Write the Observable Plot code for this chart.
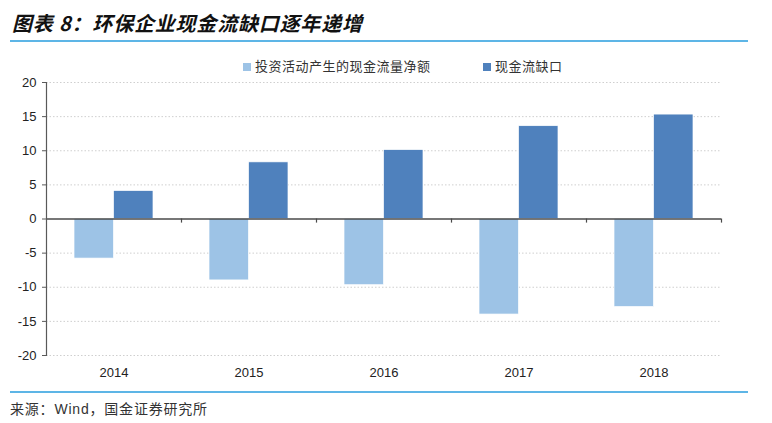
<!DOCTYPE html>
<html>
<head>
<meta charset="utf-8">
<script src="https://cdn.jsdelivr.net/npm/d3@7"></script>
<script src="https://cdn.jsdelivr.net/npm/@observablehq/plot@0.6"></script>
<style>
  html, body { margin: 0; padding: 0; background: #fff; }
  #wrap { position: relative; width: 772px; height: 423px; overflow: hidden; font-family: "Liberation Sans", Arial, sans-serif; }
  #title { position: absolute; left: 12px; top: 10px; font-family: "Noto Sans CJK SC", sans-serif; font-weight: bold; font-style: italic; font-size: 20px; letter-spacing: 0.8px; color: #111; line-height: 26px; white-space: nowrap; }
  .hline { position: absolute; left: 10px; width: 738px; height: 2px; background: #5db5e6; }
  #legend { position: absolute; top: 57px; left: 0; width: 772px; height: 18px; font-family: "Noto Sans CJK SC", sans-serif; font-size: 13px; color: #333; letter-spacing: 0.5px; }
  .li { position: absolute; top: 0; white-space: nowrap; line-height: 18px; }
  .sw { display: inline-block; width: 8px; height: 8px; margin-right: 4px; vertical-align: 0px; }
  #source { position: absolute; left: 10px; top: 398px; font-family: "Noto Sans CJK SC", sans-serif; font-size: 14px; letter-spacing: 0.8px; color: #333; white-space: nowrap; line-height: 20px; }
  #source .latin { font-family: "Liberation Sans", Arial, sans-serif; }
  #chart { position: absolute; left: 0; top: 0; }
</style>
</head>
<body>
<div id="wrap">
  <div id="chart"></div>
  <div id="title">图表 8：环保企业现金流缺口逐年递增</div>
  <div class="hline" style="top:40px"></div>
  <div id="legend"></div>
  <div class="hline" style="top:391px"></div>
  <div id="source">来源：<span class="latin">Wind</span>，国金证券研究所</div>
</div>
<script>
// ---- data ----
const years = ["2014", "2015", "2016", "2017", "2018"];
const seriesNames = ["投资活动产生的现金流量净额", "现金流缺口"];
const investNet = [-5.8, -9.0, -9.7, -14.0, -12.9];
const cashGap = [4.1, 8.3, 10.1, 13.6, 15.3];
const yTicks = [-20, -15, -10, -5, 0, 5, 10, 15, 20];
const colors = ["#9dc3e6", "#4f81bd"];

const rows = [];
years.forEach((y, i) => {
  rows.push({year: y, series: seriesNames[0], value: investNet[i]});
  rows.push({year: y, series: seriesNames[1], value: cashGap[i]});
});

// legend
const legend = document.getElementById("legend");
const legendPos = [243, 483];
seriesNames.forEach((s, i) => {
  const d = document.createElement("div");
  d.className = "li";
  d.style.left = legendPos[i] + "px";
  d.innerHTML = `<span class="sw" style="background:${colors[i]}"></span>${s}`;
  legend.appendChild(d);
});

const barW = 39.5;
const band = (772 - 46 - 51) / years.length;
const inset = (band - barW) / 2;

const chart = Plot.plot({
  width: 772,
  height: 423,
  marginTop: 82,
  marginBottom: 68,
  marginLeft: 46,
  marginRight: 51,
  style: {fontFamily: "Liberation Sans, Arial, sans-serif", fontSize: "13px", color: "#222", background: "transparent"},
  x: {domain: years, paddingInner: 0, paddingOuter: 0, axis: null},
  y: {domain: [-20, 20], axis: null},
  marks: [
    Plot.gridY(yTicks.filter(d => d !== 0), {stroke: "#cfcfcf", strokeOpacity: 1, strokeDasharray: "1.5,2"}),
    Plot.barY(rows.filter(d => d.series === seriesNames[0]), {
      x: "year", y: "value", fill: colors[0], stroke: "#ffffff", strokeWidth: 0.7,
      insetLeft: inset, insetRight: inset, dx: -barW / 2
    }),
    Plot.barY(rows.filter(d => d.series === seriesNames[1]), {
      x: "year", y: "value", fill: colors[1], stroke: "#ffffff", strokeWidth: 0.7,
      insetLeft: inset, insetRight: inset, dx: barW / 2
    }),
    Plot.ruleY([0], {stroke: "#4a4a4a", strokeWidth: 1.5}),
    Plot.ruleX(years, {x: d => d, y1: 0, y2: -0.6, dx: band / 2, stroke: "#4a4a4a", strokeWidth: 1.2}),
    Plot.frame({anchor: "left", stroke: "#595959", strokeWidth: 1.2}),
    Plot.axisY({ticks: yTicks, tickSize: 4, tickPadding: 6, tickFormat: d => String(d), label: null, stroke: "#595959", fill: "#222"}),
    Plot.axisX({tickSize: 0, tickPadding: 12, label: null, fill: "#222"})
  ]
});
document.getElementById("chart").appendChild(chart);
</script>
</body>
</html>
